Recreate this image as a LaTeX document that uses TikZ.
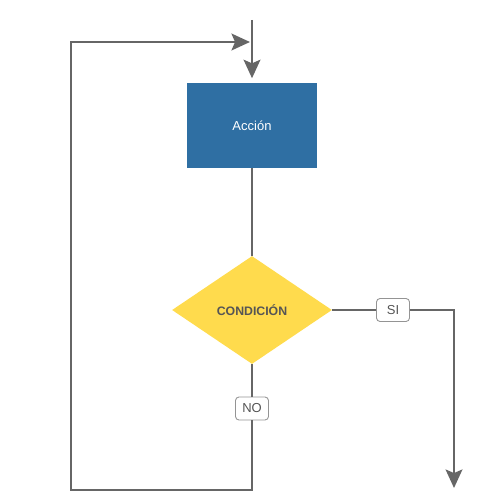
\documentclass[tikz,border=0pt]{standalone}
\usepackage{fontspec}
\setmainfont{Liberation Sans}
\usetikzlibrary{arrows.meta,positioning,shapes.geometric}
\definecolor{fblue}{HTML}{2F6FA3}
\definecolor{fyellow}{HTML}{FFDB4D}
\definecolor{fline}{HTML}{666666}
\definecolor{ftext}{HTML}{555555}
\tikzset{
  accion/.style={fill=fblue,text=white,minimum width=2.6cm,minimum height=1.7cm,font=\fontsize{7.4}{8}\selectfont,inner sep=0pt},
  cond/.style={diamond,fill=fyellow,text=ftext,minimum width=3.2cm,minimum height=2.16cm,font=\fontsize{7}{8}\selectfont\bfseries,inner sep=0pt},
  etq/.style={draw=fline!70,fill=white,rounded corners=2pt,line width=0.5pt,text=ftext,font=\fontsize{7.4}{8}\selectfont,minimum width=0.66cm,minimum height=0.46cm,inner sep=0pt},
  flujo/.style={line width=1.6pt,draw=fline},
  farr/.style={flujo,-{Stealth[length=10.5pt,width=9.5pt,inset=2pt]}},
}
\begin{document}
\begin{tikzpicture}[x=0.02cm,y=-0.02cm]
  \useasboundingbox (0,0) rectangle (500,500);
  \node[accion] (acc) at (252,125.5) {Acción};
  \node[cond] (cnd) at (252,310) {CONDICIÓN};
  \node[etq] (si) at (393,310) {SI};
  \node[etq] (no) at (252,408.5) {NO};
  \coordinate (inicio) at (252,20);
  \coordinate (fin) at (454,488);
  \coordinate (abajo) at (252,490);
  \coordinate (esqinf) at (71,490);
  \coordinate (esqsup) at (71,42);
  \coordinate (retorno) at (250,42);
  % entrada
  \draw[farr,shorten >=2.5pt] (inicio) -- (acc.north);
  \draw[flujo] (acc) -- (cnd);
  % rama SI
  \draw[flujo] (cnd.east) -- (si);
  \draw[farr] (si) -| (fin);
  % rama NO y vuelta
  \draw[flujo] (cnd.south) -- (no);
  \draw[farr] (no) -- (abajo) -- (esqinf) -- (esqsup) -- (retorno);
\end{tikzpicture}
\end{document}
